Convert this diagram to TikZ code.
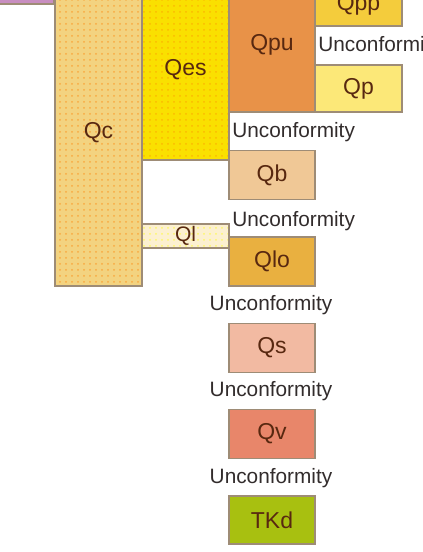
\documentclass[tikz,border=0pt]{standalone}
\usepackage{fontspec}
\setmainfont{Liberation Sans}
\usetikzlibrary{patterns}

\definecolor{edge}{RGB}{158,140,118}
\definecolor{labtext}{RGB}{88,40,16}
\definecolor{uctext}{RGB}{50,44,44}
\definecolor{cQc}{RGB}{243,211,128}
\definecolor{cQes}{RGB}{250,224,0}
\definecolor{cQpu}{RGB}{232,146,72}
\definecolor{cQpp}{RGB}{244,204,60}
\definecolor{cQp}{RGB}{252,232,120}
\definecolor{cQb}{RGB}{240,200,150}
\definecolor{cQl}{RGB}{252,240,208}
\definecolor{cQlo}{RGB}{233,176,64}
\definecolor{cQs}{RGB}{242,186,162}
\definecolor{cQv}{RGB}{232,134,106}
\definecolor{cTKd}{RGB}{168,192,16}
\definecolor{cPur}{RGB}{200,142,192}

\begin{document}
\begin{tikzpicture}[x=0.5pt,y=-0.5pt,
        unit/.style={draw=edge,rectangle,line width=0.75pt,inner sep=0pt,text=labtext,font=\fontsize{11.5}{12}\selectfont},
        dotty/.style 2 args={preaction={fill=#1},preaction={pattern=dots,pattern color=#2}},
        uncon/.style={inner sep=0pt,text=uctext,font=\fontsize{10.4}{12}\selectfont}
      ]
      \useasboundingbox (0,0) rectangle (423,552);
      \clip (0,0) rectangle (423,552);
      % left columns
      \node[unit,fill=cPur,minimum width=37pt,minimum height=14pt] (pur) at (17,-10) {};
      \node[unit,dotty={cQc}{orange!50!cQc},minimum width=43.5pt,minimum height=153pt] (qc) at (98.5,133) {Qc};
      \node[unit,dotty={cQes}{orange!40!cQes},minimum width=43.5pt,minimum height=90pt] (qes) at (185.5,70) {Qes};
      \node[unit,dotty={cQl}{yellow!50!cQl},minimum width=43.5pt,minimum height=12pt,font=\fontsize{10.5}{11}\selectfont] (ql) at (185.5,236) {Ql};
      % right columns
      \node[unit,fill=cQpu,minimum width=43pt,minimum height=67pt] (qpu) at (272,45) {Qpu};
      \node[unit,fill=cQpp,minimum width=43.5pt,minimum height=21pt] (qpp) at (358.5,5) {Qpp};
      \node[unit,fill=cQp,minimum width=43.5pt,minimum height=23.5pt] (qp) at (358.5,88.5) {Qp};
      \node[unit,fill=cQb,minimum width=43pt,minimum height=24.5pt] (qb) at (272,175) {Qb};
      \node[unit,fill=cQlo,minimum width=43pt,minimum height=24.5pt] (qlo) at (272,261.5) {Qlo};
      \node[unit,fill=cQs,minimum width=43pt,minimum height=24.5pt] (qs) at (272,348) {Qs};
      \node[unit,fill=cQv,minimum width=43pt,minimum height=24.5pt] (qv) at (272,434) {Qv};
      \node[unit,fill=cTKd,minimum width=43pt,minimum height=24pt] (tkd) at (272,520) {TKd};
      % unconformities
      \node[uncon,anchor=west] (u1) at (318,46) {Unconformity};
      \node[uncon,anchor=west] (u2) at (232,132) {Unconformity};
      \node[uncon,anchor=west] (u3) at (232,221) {Unconformity};
      \node[uncon] (u4) at (271,305) {Unconformity};
      \node[uncon] (u5) at (271,391) {Unconformity};
      \node[uncon] (u6) at (271,478) {Unconformity};
    \end{tikzpicture}
\end{document}
